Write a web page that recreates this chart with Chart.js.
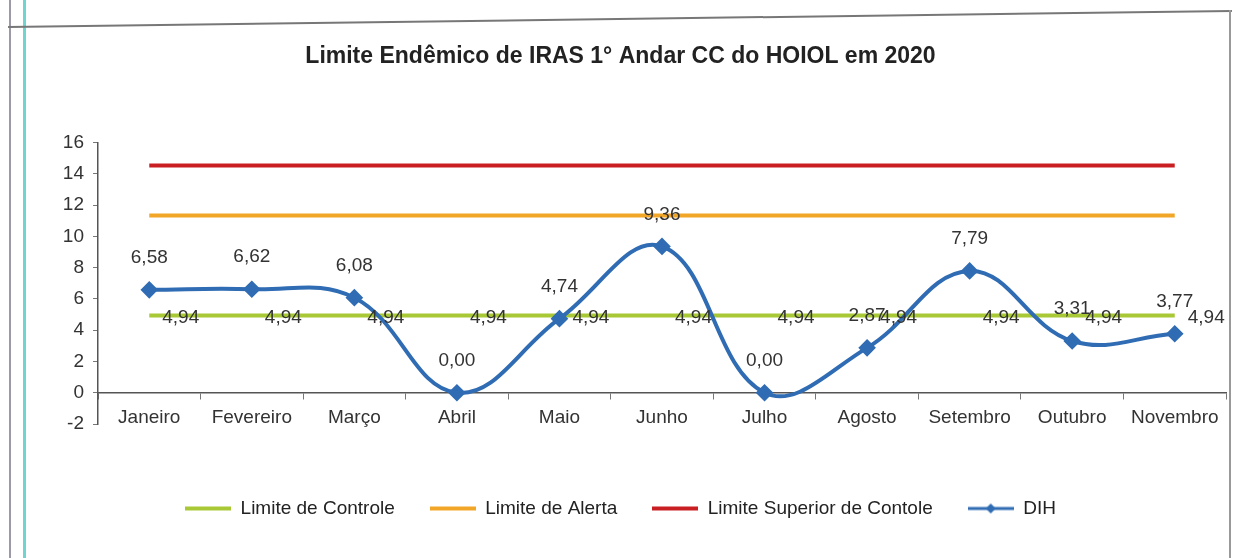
<!DOCTYPE html>
<html>
<head>
<meta charset="utf-8">
<script src="https://cdn.jsdelivr.net/npm/chart.js@4"></script>
<style>
    html, body { margin: 0; padding: 0; background: #fff; }
    #wrap { position: relative; width: 1236px; height: 558px; overflow: hidden; }
    #grafico { position: absolute; left: 0; top: 0; }
    .borda { position: absolute; }
    #bordaEsq { left: 9px; top: 0; width: 2px; height: 558px; background: #9a9aa8; }
    #bordaTeal { left: 23px; top: 0; width: 3px; height: 558px; background: #6fd6cf; }
    #bordaTopo { left: 8px; top: 18px; width: 1224px; height: 2px; background: #777; transform: rotate(-0.75deg); }
    #bordaDir { left: 1229px; top: 10px; width: 2px; height: 548px; background: #999; }
</style>
</head>
<body>
<div id="wrap">
    <div class="borda" id="bordaEsq"></div>
    <div class="borda" id="bordaTeal"></div>
    <div class="borda" id="bordaTopo"></div>
    <div class="borda" id="bordaDir"></div>
    <canvas id="grafico" width="1236" height="558"></canvas>
</div>
<script>
const meses = ['Janeiro', 'Fevereiro', 'Março', 'Abril', 'Maio', 'Junho', 'Julho', 'Agosto', 'Setembro', 'Outubro', 'Novembro'];
const limiteControle = [4.94, 4.94, 4.94, 4.94, 4.94, 4.94, 4.94, 4.94, 4.94, 4.94, 4.94];
const limiteAlerta = [11.34, 11.34, 11.34, 11.34, 11.34, 11.34, 11.34, 11.34, 11.34, 11.34, 11.34];
const limiteSuperior = [14.54, 14.54, 14.54, 14.54, 14.54, 14.54, 14.54, 14.54, 14.54, 14.54, 14.54];
const dih = [6.58, 6.62, 6.08, 0.00, 4.74, 9.36, 0.00, 2.87, 7.79, 3.31, 3.77];
const nomesSeries = ['Limite de Controle', 'Limite de Alerta', 'Limite Superior de Contole', 'DIH'];

const fonte = '"Liberation Sans", Arial, sans-serif';
const corVerde = '#a8c836';
const corLaranja = '#f2a628';
const corVermelho = '#c91f22';
const corAzul = '#2f6cb3';

function fmt(v) {
    return v.toFixed(2).replace('.', ',');
}

// small pictures used as legend keys (line, and line with diamond for DIH)
function chave(cor, largura, losango) {
    const c = document.createElement('canvas');
    c.width = 46;
    c.height = 14;
    const g = c.getContext('2d');
    g.strokeStyle = cor;
    g.lineWidth = largura;
    g.beginPath();
    g.moveTo(0, 7);
    g.lineTo(46, 7);
    g.stroke();
    if (losango) {
        g.fillStyle = cor;
        g.beginPath();
        g.moveTo(23, 2);
        g.lineTo(28, 7);
        g.lineTo(23, 12);
        g.lineTo(18, 7);
        g.closePath();
        g.fill();
    }
    return c;
}
const chaves = [chave(corVerde, 4, false), chave(corLaranja, 4, false), chave(corVermelho, 4, false), chave(corAzul, 3, true)];

const rotulos = {
    id: 'rotulos',
    afterDatasetsDraw(chart) {
        const ctx = chart.ctx;
        ctx.save();
        ctx.font = '19px ' + fonte;
        ctx.fillStyle = '#333';
        ctx.textBaseline = 'middle';
        ctx.textAlign = 'left';
        chart.getDatasetMeta(0).data.forEach((pt, i) => {
            ctx.fillText(fmt(limiteControle[i]), pt.x + 13, pt.y + 2);
        });
        ctx.textAlign = 'center';
        chart.getDatasetMeta(3).data.forEach((pt, i) => {
            ctx.fillText(fmt(dih[i]), pt.x, pt.y - 32);
        });
        ctx.restore();
    }
};

new Chart(document.getElementById('grafico'), {
    type: 'line',
    data: {
        labels: meses,
        datasets: [
            {
                label: nomesSeries[0],
                data: limiteControle,
                borderColor: corVerde,
                backgroundColor: corVerde,
                borderWidth: 4,
                pointRadius: 0,
                order: 2,
            },
            {
                label: nomesSeries[1],
                data: limiteAlerta,
                borderColor: corLaranja,
                backgroundColor: corLaranja,
                borderWidth: 4,
                pointRadius: 0,
                order: 3,
            },
            {
                label: nomesSeries[2],
                data: limiteSuperior,
                borderColor: corVermelho,
                backgroundColor: corVermelho,
                borderWidth: 4,
                pointRadius: 0,
                order: 4,
            },
            {
                label: nomesSeries[3],
                data: dih,
                borderColor: corAzul,
                backgroundColor: corAzul,
                borderWidth: 4,
                tension: 0.4,
                pointStyle: 'rectRot',
                pointRadius: 6,
                order: 1,
            },
        ],
    },
    options: {
        responsive: false,
        animation: false,
        layout: {
            padding: { left: 10, right: 5, top: 0, bottom: 30 },
        },
        plugins: {
            title: {
                display: true,
                text: 'Limite Endêmico de IRAS 1° Andar CC do HOIOL em 2020',
                color: '#222',
                font: { family: fonte, size: 23, weight: 'bold' },
                padding: { top: 43, bottom: 72 },
            },
            legend: {
                position: 'bottom',
                title: {
                    display: true,
                    text: '',
                    font: { size: 10 },
                    padding: { top: 0, bottom: 28 },
                },
                labels: {
                    usePointStyle: true,
                    pointStyleWidth: 46,
                    padding: 35,
                    color: '#222',
                    font: { family: fonte, size: 19 },
                    sort: (a, b) => a.datasetIndex - b.datasetIndex,
                    generateLabels(chart) {
                        const itens = Chart.defaults.plugins.legend.labels.generateLabels(chart);
                        itens.forEach((it) => {
                            it.pointStyle = chaves[it.datasetIndex];
                        });
                        return itens;
                    },
                },
            },
            tooltip: { enabled: false },
        },
        scales: {
            x: {
                position: { y: 0 },
                offset: true,
                border: { display: true, color: '#555', width: 1.5 },
                grid: {
                    display: true,
                    drawOnChartArea: false,
                    drawTicks: true,
                    tickLength: 6,
                    offset: true,
                    color: '#777',
                },
                ticks: {
                    color: '#333',
                    padding: 8,
                    font: { family: fonte, size: 19 },
                    maxRotation: 0,
                },
            },
            y: {
                min: -2,
                max: 16,
                afterFit(scale) {
                    scale.width = 88;
                },
                border: { display: true, color: '#555', width: 1.5 },
                grid: {
                    display: true,
                    drawOnChartArea: false,
                    drawTicks: true,
                    tickLength: 5,
                    color: '#777',
                },
                ticks: {
                    stepSize: 2,
                    color: '#333',
                    padding: 9,
                    font: { family: fonte, size: 19 },
                },
            },
        },
    },
    plugins: [rotulos],
});
</script>
</body>
</html>
